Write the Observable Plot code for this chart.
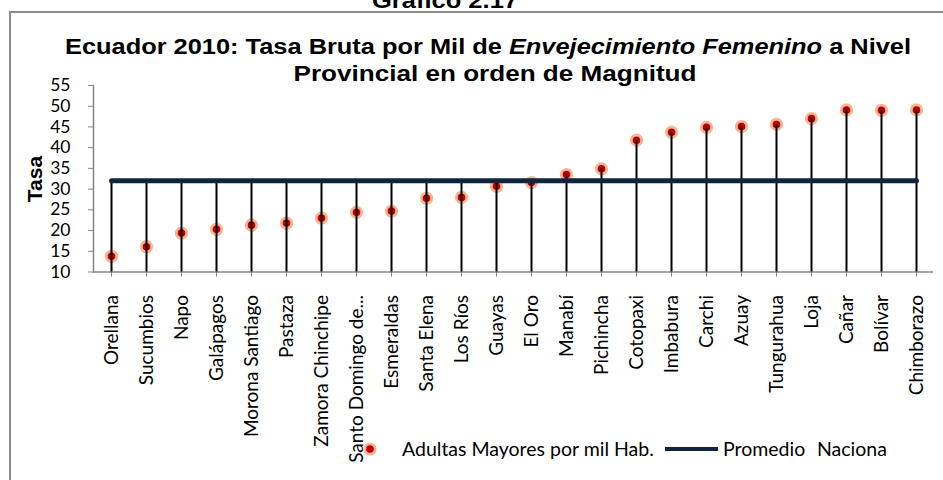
<!DOCTYPE html>
<html>
<head>
<meta charset="utf-8">
<script src="https://cdn.jsdelivr.net/npm/d3@7"></script>
<script src="https://cdn.jsdelivr.net/npm/@observablehq/plot@0.6"></script>
<style>
  html, body { margin: 0; padding: 0; background: #fff; }
  #chart svg { display: block; }
</style>
</head>
<body>
<div id="chart"></div>
<script>
// ---- Data ----
const provinces = ["Orellana", "Sucumbios", "Napo", "Galápagos", "Morona Santiago", "Pastaza",
  "Zamora Chinchipe", "Santo Domingo de...", "Esmeraldas", "Santa Elena", "Los Ríos", "Guayas",
  "El Oro", "Manabí", "Pichincha", "Cotopaxi", "Imbabura", "Carchi", "Azuay", "Tungurahua",
  "Loja", "Cañar", "Bolívar", "Chimborazo"];
const tasa = [13.8, 16.1, 19.4, 20.3, 21.3, 21.8, 23.0, 24.4, 24.7, 27.8, 28.0, 30.7,
  31.6, 33.5, 34.9, 41.8, 43.7, 44.9, 45.1, 45.6, 47.0, 49.1, 49.0, 49.1];
const promedioNacional = 32.0;
const yTicks = [10, 15, 20, 25, 30, 35, 40, 45, 50, 55];

const titleTop = "Gráfico 2.17";
const titleParts = [["Ecuador 2010: Tasa Bruta por Mil de ", "normal"], ["Envejecimiento Femenino", "italic"], [" a Nivel", "normal"]];
const titleLine2 = "Provincial en orden de Magnitud";
const yLabel = "Tasa";
const legendDots = "Adultas Mayores por mil Hab.";
const legendLine = ["Promedio", "Naciona"];

const data = provinces.map((p, i) => ({province: p, tasa: tasa[i], promedio: promedioNacional}));

const axisGray = "#868686";
const navy = "#10243E";
const red = "#C00000";
const halo = "#F6B592";
const bodyFont = "Lato, 'Open Sans', sans-serif";

const chart = Plot.plot({
  width: 943,
  height: 480,
  marginLeft: 93,
  marginRight: 10,
  marginTop: 85,
  marginBottom: 208.5,
  style: {fontFamily: bodyFont, background: "#fff", color: "#000"},
  x: {type: "point", domain: provinces, padding: 0.5},
  y: {domain: [10, 55]},
  marks: [
    Plot.frame({anchor: "left", stroke: axisGray, strokeWidth: 1.5}),
    Plot.ruleY([10], {stroke: axisGray, strokeWidth: 1.5}),
    Plot.axisY({ticks: yTicks, tickSize: 5, tickPadding: 18, fontSize: 17.5, stroke: axisGray, fill: "#000", label: null}),
    Plot.axisX({tickRotate: -90, tickSize: 5, tickPadding: 18, fontSize: 19, stroke: axisGray, fill: "#000", label: null}),
    Plot.dot(data, {x: "province", y: "tasa", r: 5.2, fill: red, stroke: halo, strokeWidth: 2.8}),
    Plot.ruleX(data, {x: "province", y1: 10, y2: d => Math.max(d.tasa, d.promedio), stroke: "#000", strokeWidth: 2}),
    Plot.lineY(data, {x: "province", y: "promedio", stroke: navy, strokeWidth: 5, strokeLinecap: "round"})
  ]
});

document.getElementById("chart").appendChild(chart);

const svg = d3.select(chart);

// outer chart border (extends beyond the visible area right/bottom)
svg.insert("path", ":first-child")
  .attr("d", "M10,482 V12 H945")
  .attr("fill", "none")
  .attr("stroke", "#8c8c8c")
  .attr("stroke-width", 2);

const tf = "'Liberation Sans', Arial, sans-serif";

svg.append("text")
  .attr("x", 445).attr("y", 8)
  .attr("text-anchor", "middle")
  .attr("textLength", 146).attr("lengthAdjust", "spacingAndGlyphs")
  .style("font", `bold 22px ${tf}`)
  .text(titleTop);

const t1 = svg.append("text")
  .attr("x", 488).attr("y", 54)
  .attr("text-anchor", "middle")
  .attr("textLength", 846).attr("lengthAdjust", "spacingAndGlyphs")
  .style("font-family", tf).style("font-weight", "bold").style("font-size", "22px");
titleParts.forEach(([s, st]) => t1.append("tspan").style("font-style", st).text(s));

svg.append("text")
  .attr("x", 495).attr("y", 81)
  .attr("text-anchor", "middle")
  .attr("textLength", 403).attr("lengthAdjust", "spacingAndGlyphs")
  .style("font", `bold 22px ${tf}`)
  .text(titleLine2);

svg.append("text")
  .attr("transform", "translate(42,179) rotate(-90)")
  .attr("text-anchor", "middle")
  .style("font", `bold 21px ${tf}`)
  .text(yLabel);

// legend
const lg = svg.append("g").style("font-family", bodyFont).style("font-size", "19.5px").attr("text-anchor", "start");
lg.append("circle").attr("cx", 370).attr("cy", 449).attr("r", 5.2)
  .attr("fill", red).attr("stroke", halo).attr("stroke-width", 2.8);
lg.append("text").attr("x", 402).attr("y", 456).attr("text-anchor", "start").text(legendDots);
lg.append("line").attr("x1", 665).attr("x2", 718).attr("y1", 449).attr("y2", 449)
  .attr("stroke", navy).attr("stroke-width", 4);
lg.append("text").attr("x", 723).attr("y", 456).attr("text-anchor", "start").text(legendLine[0]);
lg.append("text").attr("x", 817).attr("y", 456).attr("text-anchor", "start").text(legendLine[1]);
</script>
</body>
</html>
